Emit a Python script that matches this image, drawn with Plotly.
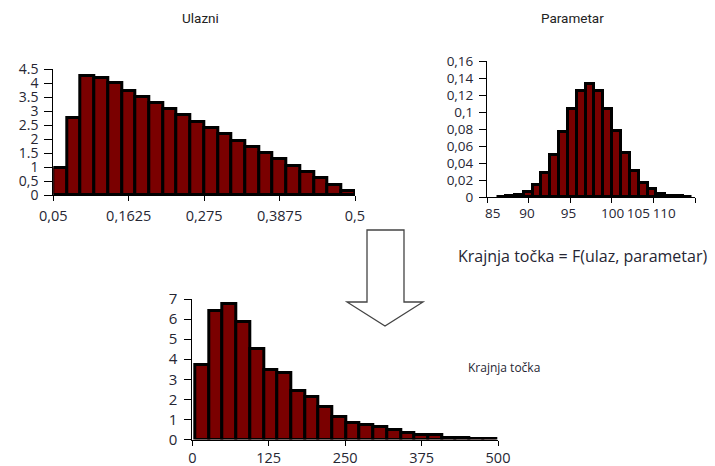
import numpy as np
import plotly.graph_objects as go

W, H = 715, 466

# ---------------- data ----------------
# Top-left: "Ulazni" histogram (22 bins from 0.05 to 0.5)
ulaz_start, ulaz_end = 0.05, 0.5
ulaz_values = [0.97, 2.74, 4.25, 4.19, 3.99, 3.73, 3.51, 3.30, 3.07, 2.87, 2.62,
               2.39, 2.19, 1.94, 1.71, 1.49, 1.29, 1.02, 0.82, 0.60, 0.37, 0.14]
ulaz_tickvals = [0.05, 0.1625, 0.275, 0.3875, 0.5]
ulaz_ticktext = ["0,05", "0,1625", "0,275", "0,3875", "0,5"]
ulaz_yvals = [0, 0.5, 1, 1.5, 2, 2.5, 3, 3.5, 4, 4.5]
ulaz_ytext = ["0", "0,5", "1", "1.5", "2", "2.5", "3", "3.5", "4", "4.5"]

# Top-right: "Parametar" histogram (22 bins)
par_start, par_end = 86.24, 109.6
par_values = [0.0005, 0.001, 0.002, 0.0055, 0.0145, 0.028, 0.049, 0.077, 0.1035,
              0.125, 0.133, 0.125, 0.103, 0.078, 0.052, 0.031, 0.017, 0.009,
              0.004, 0.0015, 0.001, 0.0005]
par_tickmarks = [85, 90, 95, 100, 105, 110]
par_ticktext = ["85", "90", "95", "100", "105", "110"]
par_labelpos = [85.7, 89.8, 94.8, 100.1, 103.2, 106.3]
par_yvals = [0, 0.02, 0.04, 0.06, 0.08, 0.1, 0.12, 0.14, 0.16]
par_ytext = ["0", "0,02", "0,04", "0,06", "0,08", "0,1", "0,12", "0,14", "0,16"]

# Bottom: "Krajnja točka" histogram (22 bins)
kraj_start, kraj_end = 5.0, 498.0
kraj_values = [3.73, 6.39, 6.76, 5.84, 4.53, 3.48, 3.31, 2.40, 2.10, 1.61, 1.12,
               0.84, 0.73, 0.60, 0.49, 0.32, 0.20, 0.20, 0.08, 0.08, 0.03, 0.03]
kraj_tickvals = [0, 125, 250, 375, 500]
kraj_yvals = [0, 1, 2, 3, 4, 5, 6, 7]

# ---------------- helpers ----------------
def px(x):
    return x / W

def py(y):
    return 1 - y / H

def bins(start, end, n):
    w = (end - start) / n
    centers = start + w * (np.arange(n) + 0.5)
    return centers, w

FILL = "#7a0000"
EDGE = "black"
FAM = "Open Sans, Noto Sans, sans-serif"
TXT = "#262633"

def tf(size):
    return dict(family=FAM, size=size, color=TXT)

fig = go.Figure()

c1, w1 = bins(ulaz_start, ulaz_end, len(ulaz_values))
fig.add_trace(go.Bar(x=c1, y=ulaz_values, width=w1, xaxis="x", yaxis="y",
                     marker=dict(color=FILL, line=dict(color=EDGE, width=3))))

c2, w2 = bins(par_start, par_end, len(par_values))
fig.add_trace(go.Bar(x=c2, y=par_values, width=w2, xaxis="x2", yaxis="y2",
                     marker=dict(color=FILL, line=dict(color=EDGE, width=3))))

c3, w3 = bins(kraj_start, kraj_end, len(kraj_values))
fig.add_trace(go.Bar(x=c3, y=kraj_values, width=w3, xaxis="x3", yaxis="y3",
                     marker=dict(color=FILL, line=dict(color=EDGE, width=3))))

axis_common = dict(showline=True, linecolor="black", linewidth=1, showgrid=False,
                   zeroline=False, ticks="outside", tickcolor="black",
                   fixedrange=True, automargin=False)

fig.update_layout(
    template="none",
    width=W, height=H,
    margin=dict(l=0, r=0, t=0, b=0, autoexpand=False),
    paper_bgcolor="white", plot_bgcolor="white",
    showlegend=False, bargap=0,
    xaxis=dict(domain=[px(53.3), px(355)], range=[ulaz_start, ulaz_end], anchor="y",
               tickmode="array", tickvals=ulaz_tickvals, ticktext=ulaz_ticktext,
               ticklen=5, ticklabelstandoff=3, tickfont=tf(14.5), **axis_common),
    yaxis=dict(domain=[py(195), py(69)], range=[0, 4.5], anchor="x",
               tickmode="array", tickvals=ulaz_yvals, ticktext=ulaz_ytext,
               ticklen=8, ticklabelstandoff=3, tickfont=tf(14), **axis_common),
    xaxis2=dict(domain=[px(487), px(695)], range=[85, 110], anchor="y2",
                tickmode="array", tickvals=par_labelpos, ticktext=par_ticktext,
                ticklen=5, ticklabelstandoff=4, tickfont=tf(13.5),
                **{**axis_common, "ticks": ""},
                minor=dict(tickmode="array", tickvals=par_tickmarks, ticks="outside",
                           ticklen=5, tickcolor="black", showgrid=False)),
    yaxis2=dict(domain=[py(197), py(61)], range=[0, 0.16], anchor="x2",
                tickmode="array", tickvals=par_yvals, ticktext=par_ytext,
                ticklen=7, ticklabelstandoff=3, tickfont=tf(13.5), **axis_common),
    xaxis3=dict(domain=[px(192.3), px(498)], range=[0, 500], anchor="y3",
                tickmode="array", tickvals=kraj_tickvals,
                ticklen=5, ticklabelstandoff=0, tickfont=tf(14.5), **axis_common),
    yaxis3=dict(domain=[py(439.5), py(299)], range=[0, 7], anchor="x3",
                tickmode="array", tickvals=kraj_yvals,
                ticklen=7, ticklabelstandoff=4, tickfont=tf(15), **axis_common),
)

# Arrow (decoration)
pts = [(367, 230), (404, 230), (404, 302), (423, 302), (385, 326), (347, 302), (367, 302)]
path = "M " + " L ".join(f"{px(x):.5f},{py(y):.5f}" for x, y in pts) + " Z"
fig.add_shape(type="path", path=path, xref="paper", yref="paper",
              line=dict(color="#444444", width=1.3), fillcolor="white")

TITLEFONT = dict(family="Roboto, Open Sans, sans-serif", size=13.5, color="#222222")
fig.add_annotation(x=px(200), y=py(18), xref="paper", yref="paper", text="Ulazni",
                   showarrow=False, font=TITLEFONT, xanchor="center", yanchor="middle")
fig.add_annotation(x=px(572), y=py(18), xref="paper", yref="paper", text="Parametar",
                   showarrow=False, font=TITLEFONT, xanchor="center", yanchor="middle")
fig.add_annotation(x=px(456), y=py(256), xref="paper", yref="paper",
                   text="Krajnja točka = F(ulaz, parametar)", showarrow=False,
                   font=tf(16), xanchor="left", yanchor="middle")
fig.add_annotation(x=px(504), y=py(367), xref="paper", yref="paper",
                   text="Krajnja točka", showarrow=False,
                   font=tf(12), xanchor="center", yanchor="middle")

fig.write_html("out.html", config={"displayModeBar": False},
               post_script="document.body.style.margin='0';document.body.style.overflow='hidden';")
